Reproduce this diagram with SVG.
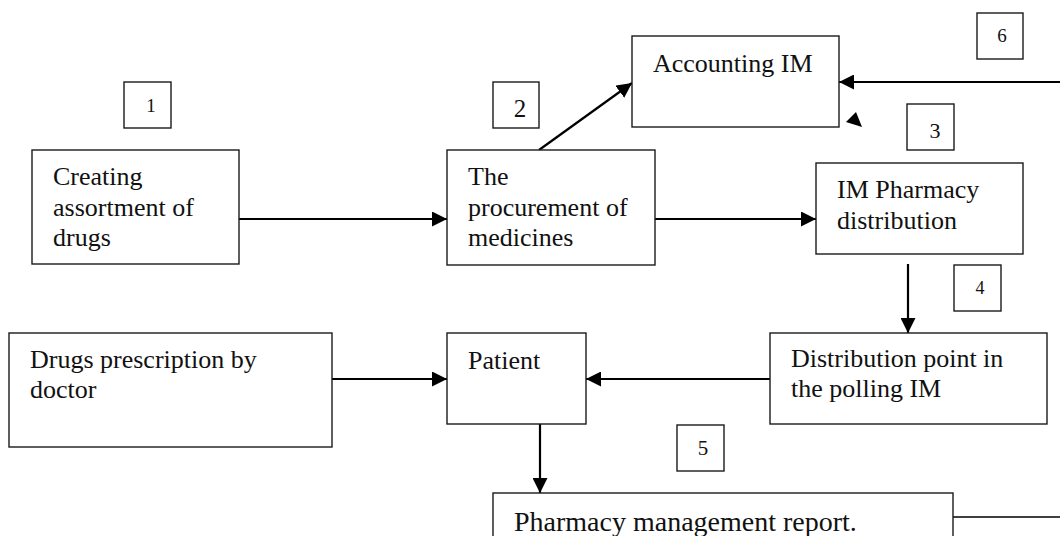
<svg xmlns="http://www.w3.org/2000/svg" width="1060" height="536" viewBox="0 0 1060 536">
<style>
.box{fill:#fff;stroke:#1a1a1a;stroke-width:1.4}
.t{font-family:"Liberation Serif","Times New Roman",serif;font-size:26px;fill:#111}
.n{font-family:"Liberation Serif","Times New Roman",serif;fill:#111;text-anchor:middle}
.c{stroke:#000;stroke-width:2.2;fill:none}
</style>
<defs>
<marker id="ah" markerWidth="15" markerHeight="15" refX="15" refY="7.5" orient="auto" markerUnits="userSpaceOnUse">
<path d="M0,0 L15,7.5 L0,15 z" fill="#000"/>
</marker>
</defs>
<rect width="1060" height="536" fill="#fff"/>
<g id="connectors">
<line class="c" x1="239" y1="219" x2="447" y2="219" marker-end="url(#ah)"/>
<line class="c" x1="655" y1="219" x2="816" y2="219" marker-end="url(#ah)"/>
<line class="c" x1="539" y1="150" x2="632" y2="83" marker-end="url(#ah)"/>
<line class="c" x1="1060" y1="82" x2="839" y2="82" marker-end="url(#ah)"/>
<polygon points="846,122 856,112 862,127" fill="#000"/>
<line class="c" x1="908" y1="264" x2="908" y2="333" marker-end="url(#ah)"/>
<line class="c" x1="770" y1="379" x2="586" y2="379" marker-end="url(#ah)"/>
<line class="c" x1="332" y1="379" x2="447" y2="379" marker-end="url(#ah)"/>
<line class="c" x1="540" y1="424" x2="540" y2="493" marker-end="url(#ah)"/>
<line x1="953" y1="517" x2="1060" y2="517" stroke="#000" stroke-width="1.4"/>
</g>
<g id="label1"><rect class="box" x="124" y="82" width="47" height="46"/><text class="n" x="151" y="112" font-size="19">1</text></g>
<g id="label2"><rect class="box" x="493" y="82" width="46" height="46"/><text class="n" x="520" y="117" font-size="25">2</text></g>
<g id="label3"><rect class="box" x="907" y="104" width="47" height="46"/><text class="n" x="935" y="138" font-size="22">3</text></g>
<g id="label4"><rect class="box" x="954" y="265" width="47" height="46"/><text class="n" x="980" y="294" font-size="18">4</text></g>
<g id="label5"><rect class="box" x="677" y="425" width="47" height="46"/><text class="n" x="703" y="455" font-size="21">5</text></g>
<g id="label6"><rect class="box" x="977" y="13" width="46" height="46"/><text class="n" x="1002" y="42" font-size="19">6</text></g>
<g id="creating"><rect class="box" x="32" y="150" width="207" height="114"/>
<text class="t" x="53" y="185">Creating</text><text class="t" x="53" y="216">assortment of</text><text class="t" x="53" y="246">drugs</text></g>
<g id="procurement"><rect class="box" x="447" y="150" width="208" height="115"/>
<text class="t" x="468" y="185">The</text><text class="t" x="468" y="216">procurement of</text><text class="t" x="468" y="246">medicines</text></g>
<g id="accounting"><rect class="box" x="632" y="36" width="207" height="91"/>
<text class="t" x="653" y="72">Accounting IM</text></g>
<g id="pharmacy"><rect class="box" x="816" y="163" width="207" height="91"/>
<text class="t" x="837" y="198">IM Pharmacy</text><text class="t" x="837" y="229">distribution</text></g>
<g id="distribution"><rect class="box" x="770" y="333" width="277" height="91"/>
<text class="t" x="791" y="367">Distribution point in</text><text class="t" x="791" y="397">the polling IM</text></g>
<g id="patient"><rect class="box" x="447" y="333" width="139" height="91"/>
<text class="t" x="468" y="369">Patient</text></g>
<g id="doctor"><rect class="box" x="9" y="333" width="323" height="114"/>
<text class="t" x="30" y="368">Drugs prescription by</text><text class="t" x="30" y="398">doctor</text></g>
<g id="report"><rect class="box" x="493" y="493" width="460" height="60"/>
<text class="t" x="514" y="531" font-size="28" style="font-size:28px">Pharmacy management report.</text></g>
</svg>
